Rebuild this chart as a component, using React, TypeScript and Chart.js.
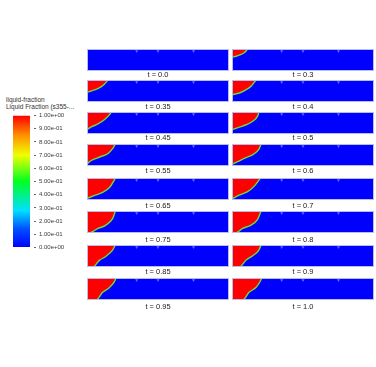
import React, { useEffect, useRef } from 'react';
import { Chart, registerables } from 'chart.js';

Chart.register(...registerables);

// ---- data ----
const timeLabels = ['0.0', '0.3', '0.35', '0.4', '0.45', '0.5', '0.55', '0.6', '0.65', '0.7', '0.75', '0.8', '0.85', '0.9', '0.95', '1.0'];

// melt-front (liquid/solid interface) points: [x fraction of length, height fraction from bottom]
const front_0_0: number[][] = [];
const front_0_3 = [[0, 0.63], [0.03, 0.67], [0.06, 0.74], [0.085, 0.83], [0.1, 0.92], [0.11, 1]];
const front_0_35 = [[0, 0.44], [0.03, 0.5], [0.054, 0.55], [0.089, 0.65], [0.124, 0.82], [0.148, 1]];
const front_0_4 = [[0, 0.33], [0.052, 0.41], [0.1, 0.56], [0.134, 0.72], [0.17, 1]];
const front_0_45 = [[0, 0.2], [0.03, 0.32], [0.077, 0.46], [0.124, 0.66], [0.16, 0.89], [0.171, 1]];
const front_0_5 = [[0, 0.2], [0.052, 0.31], [0.1, 0.42], [0.146, 0.58], [0.18, 0.81], [0.19, 1]];
const front_0_55 = [[0, 0.1], [0.03, 0.25], [0.09, 0.41], [0.148, 0.57], [0.183, 0.81], [0.2, 1]];
const front_0_6 = [[0, 0.08], [0.04, 0.2], [0.09, 0.36], [0.15, 0.53], [0.19, 0.77], [0.205, 1]];
const front_0_65 = [[0, 0.07], [0.05, 0.2], [0.11, 0.35], [0.16, 0.58], [0.19, 0.88], [0.2, 1]];
const front_0_7 = [[0, 0.05], [0.05, 0.22], [0.11, 0.38], [0.157, 0.63], [0.19, 0.9], [0.2, 1]];
const front_0_75 = [[0, 0], [0.012, 0], [0.075, 0.2], [0.13, 0.35], [0.18, 0.65], [0.2, 1]];
const front_0_8 = [[0, 0], [0.023, 0], [0.075, 0.21], [0.134, 0.36], [0.18, 0.62], [0.205, 1]];
const front_0_85 = [[0, 0], [0.04, 0], [0.087, 0.3], [0.134, 0.49], [0.18, 0.77], [0.2, 1]];
const front_0_9 = [[0, 0], [0.052, 0], [0.1, 0.32], [0.146, 0.51], [0.188, 0.76], [0.205, 1]];
const front_0_95 = [[0, 0], [0.063, 0], [0.11, 0.35], [0.155, 0.55], [0.19, 0.8], [0.205, 1]];
const front_1_0 = [[0, 0], [0.075, 0], [0.12, 0.35], [0.17, 0.58], [0.197, 0.83], [0.21, 1]];

const fronts = [front_0_0, front_0_3, front_0_35, front_0_4, front_0_45, front_0_5, front_0_55, front_0_6,
  front_0_65, front_0_7, front_0_75, front_0_8, front_0_85, front_0_9, front_0_95, front_1_0];

const markX = [0.35, 0.5, 0.75];
const markY = [0.9, 0.9, 0.9];

const colorbarTicks = ['0.00e+00', '1.00e-01', '2.00e-01', '3.00e-01', '4.00e-01', '5.00e-01', '6.00e-01', '7.00e-01', '8.00e-01', '9.00e-01', '1.00e+00'];
const colorbarValue = [1];
const colorbarTitle = ['liquid-fraction', 'Liquid Fraction (s355-...'];

// ---- layout / style ----
const FONT = "'Liberation Sans', Arial, sans-serif";
const BLUE = '#0000ff';
const RED = '#ff0000';
const EDGE = '#6edc3c';
const PANEL_W = 142;
const PANEL_H = 22;
const colX = [87, 232];
const rowTop = [49, 80, 112, 144, 178, 211, 245, 278];
const labelY = [75, 107, 138, 171, 206, 240, 272, 307];

const panelPlugin = {
  id: 'panelFrame',
  beforeDraw(chart: any) {
    const { ctx, chartArea: a } = chart;
    ctx.save();
    ctx.fillStyle = BLUE;
    ctx.fillRect(a.left, a.top, a.right - a.left, a.bottom - a.top);
    ctx.restore();
  },
  afterDraw(chart: any) {
    const { ctx, chartArea: a } = chart;
    ctx.save();
    ctx.strokeStyle = '#b9bcee';
    ctx.lineWidth = 1;
    ctx.strokeRect(a.left + 0.5, a.top + 0.5, a.right - a.left - 1, a.bottom - a.top - 1);
    ctx.restore();
  },
};

function Panel({ front, left, top }: { front: number[][]; left: number; top: number }) {
  const ref = useRef<HTMLCanvasElement>(null);
  useEffect(() => {
    const chart = new Chart(ref.current as HTMLCanvasElement, {
      type: 'line',
      data: {
        datasets: [
          {
            data: front.map(([x, y]) => ({ x, y })),
            fill: 'end',
            backgroundColor: RED,
            borderColor: EDGE,
            borderWidth: 1.4,
            pointRadius: 0,
            cubicInterpolationMode: 'monotone',
            clip: 0,
            order: 1,
          } as any,
          {
            type: 'scatter',
            data: markX.map((x, i) => ({ x, y: markY[i] })),
            pointStyle: 'triangle',
            rotation: 180,
            pointRadius: 1.8,
            backgroundColor: 'rgba(165,165,255,0.6)',
            borderWidth: 0,
            showLine: false,
            clip: 0,
            order: 0,
          } as any,
        ],
      },
      options: {
        animation: false,
        responsive: false,
        events: [],
        layout: { padding: 0, autoPadding: false },
        plugins: { legend: { display: false }, tooltip: { enabled: false } },
        scales: {
          x: { type: 'linear', min: 0, max: 1, display: false },
          y: { type: 'linear', min: 0, max: 1, display: false },
        },
      },
      plugins: [panelPlugin],
    });
    return () => chart.destroy();
  }, [front]);
  return <canvas ref={ref} width={PANEL_W} height={PANEL_H} style={{ position: 'absolute', left, top, width: PANEL_W, height: PANEL_H }} />;
}

function ColorBar() {
  const ref = useRef<HTMLCanvasElement>(null);
  useEffect(() => {
    const chart = new Chart(ref.current as HTMLCanvasElement, {
      type: 'bar',
      data: {
        labels: [colorbarTitle[0]],
        datasets: [
          {
            data: colorbarValue,
            barPercentage: 0.68,
            categoryPercentage: 1,
            borderWidth: 0,
            backgroundColor: (c: any) => {
              const a = c.chart.chartArea;
              if (!a) return BLUE;
              const g = c.chart.ctx.createLinearGradient(0, a.bottom, 0, a.top);
              g.addColorStop(0, '#0000ff');
              g.addColorStop(0.14, '#0050ff');
              g.addColorStop(0.28, '#00e0ff');
              g.addColorStop(0.5, '#00ff20');
              g.addColorStop(0.7, '#f0ff00');
              g.addColorStop(0.85, '#ff9000');
              g.addColorStop(1, '#ff0000');
              return g;
            },
          } as any,
        ],
      },
      options: {
        animation: false,
        responsive: false,
        events: [],
        layout: { padding: { top: 6, bottom: 6, left: 0, right: 0 }, autoPadding: false },
        plugins: { legend: { display: false }, tooltip: { enabled: false } },
        scales: {
          x: { display: false },
          y: {
            position: 'right',
            min: 0,
            max: 1,
            ticks: {
              stepSize: 0.1,
              autoSkip: false,
              padding: 3,
              color: '#3a3a3a',
              font: { family: FONT, size: 6 },
              callback: (_v: any, i: number) => colorbarTicks[i],
            },
            grid: { drawOnChartArea: false, tickLength: 2, color: '#666' },
            border: { display: false },
            afterFit: (s: any) => { s.width = 45; },
          } as any,
        },
      },
    });
    return () => chart.destroy();
  }, []);
  return <canvas ref={ref} width={70} height={145} style={{ position: 'absolute', left: 9, top: 109, width: 70, height: 145 }} />;
}

export default function App() {
  const panels = fronts.map((f, i) => {
    const col = i % 2;
    const row = Math.floor(i / 2);
    return (
      <React.Fragment key={i}>
        <Panel front={f} left={colX[col]} top={rowTop[row]} />
        <div
          style={{
            position: 'absolute',
            left: colX[col],
            width: PANEL_W,
            top: labelY[row] - 5,
            height: 10,
            lineHeight: '10px',
            textAlign: 'center',
            fontFamily: FONT,
            fontSize: 7.5,
            color: '#222',
            whiteSpace: 'nowrap',
          }}
        >
          {'t = ' + timeLabels[i]}
        </div>
      </React.Fragment>
    );
  });
  return (
    <div style={{ position: 'absolute', left: 0, top: 0, width: 376, height: 367, background: '#fff', overflow: 'hidden' }}>
      <div style={{ position: 'absolute', left: 6, top: 96, fontFamily: FONT, fontSize: 6.5, lineHeight: '7px', color: '#333', whiteSpace: 'nowrap' }}>
        <div>{colorbarTitle[0]}</div>
        <div>{colorbarTitle[1]}</div>
      </div>
      <ColorBar />
      {panels}
    </div>
  );
}
